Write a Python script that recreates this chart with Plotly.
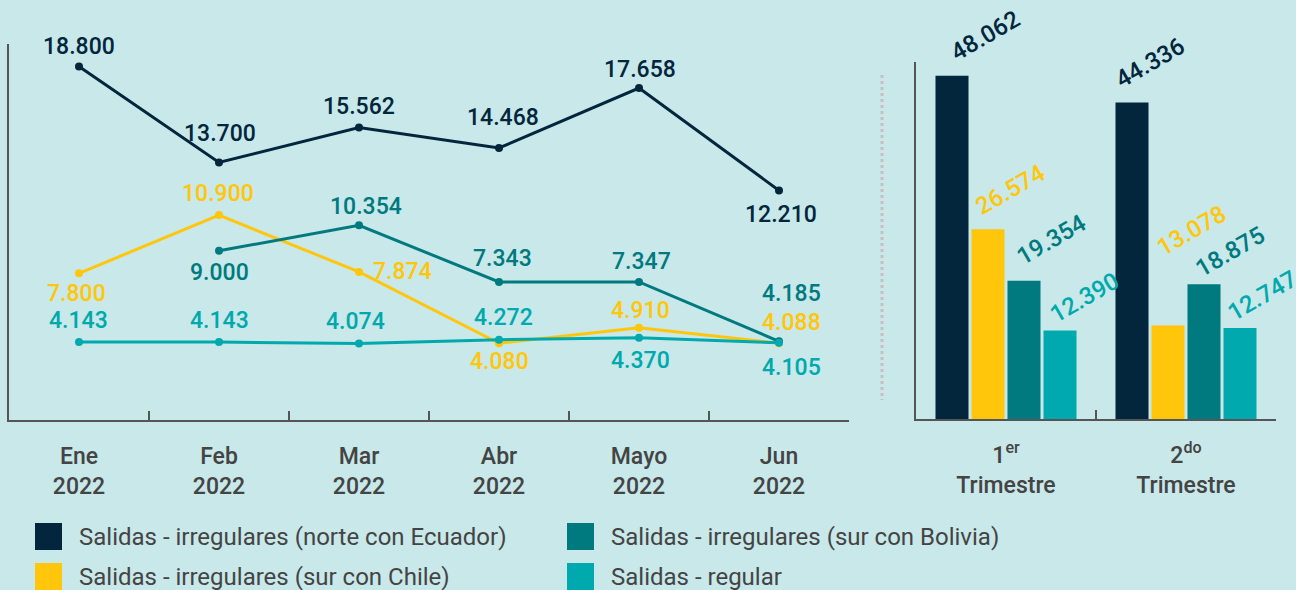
import plotly.graph_objects as go

# ---------------- data ----------------
months = ["Ene<br>2022", "Feb<br>2022", "Mar<br>2022", "Abr<br>2022", "Mayo<br>2022", "Jun<br>2022"]
ecuador = [18800, 13700, 15562, 14468, 17658, 12210]
chile = [7800, 10900, 7874, 4080, 4910, 4088]
bolivia = [None, 9000, 10354, 7343, 7347, 4185]
regular = [4143, 4143, 4074, 4272, 4370, 4105]

quarters = ["1er Trimestre", "2do Trimestre"]
quarter_ticks = ["1<sup>er</sup><br>Trimestre", "2<sup>do</sup><br>Trimestre"]
q_ecuador = [48062, 44336]
q_chile = [26574, 13078]
q_bolivia = [19354, 18875]
q_regular = [12390, 12747]

series_names = [
    "Salidas - irregulares (norte con Ecuador)",
    "Salidas - irregulares (sur con Chile)",
    "Salidas - irregulares (sur con Bolivia)",
    "Salidas - regular",
]

# ---------------- style ----------------
W, H = 1296, 590
BG = "#c8e8e9"
C_EC = "#03263d"
C_CH = "#ffc60b"
C_BO = "#007a7f"
C_RE = "#00a9ad"
AXIS = "#555555"
TXT = "#444444"
FONT = "Roboto"
FONT_MED = "Roboto Medium, Roboto"


def fmt(v):
    return f"{v:,}".replace(",", ".")


def px(x):
    return x / W


def py(y):
    return 1 - y / H


fig = go.Figure()

line_series = [
    (ecuador, C_EC, series_names[0]),
    (chile, C_CH, series_names[1]),
    (bolivia, C_BO, series_names[2]),
    (regular, C_RE, series_names[3]),
]
for vals, col, name in line_series:
    fig.add_trace(go.Scatter(
        x=months, y=vals, mode="lines+markers", name=name,
        line=dict(color=col, width=3), marker=dict(color=col, size=8),
        connectgaps=False, showlegend=False, xaxis="x", yaxis="y",
    ))

bar_series = [
    (q_ecuador, C_EC, series_names[0]),
    (q_chile, C_CH, series_names[1]),
    (q_bolivia, C_BO, series_names[2]),
    (q_regular, C_RE, series_names[3]),
]
for vals, col, name in bar_series:
    fig.add_trace(go.Bar(
        x=quarters, y=vals, name=name, marker=dict(color=col, line=dict(width=0)),
        showlegend=False, xaxis="x2", yaxis="y2",
    ))

annotations = []

# line-chart value labels: (dx, dy) pixel offsets of the label centre from the point
line_offsets = [
    [(0, 20), (1, 29), (0, 21), (4, 31), (1, 19), (2, -24)],
    [(-3, -20), (-1, 22), (43, 0), (0, -18), (1, 17), (12, 21)],
    [None, (0, -22), (7, 19), (3, 23), (2, 20), (12, 48)],
    [(-1, 22), (0, 22), (-4, 22), (4, 22), (1, -23), (12, -25)],
]
for (vals, col, _), offs in zip(line_series, line_offsets):
    for m, v, o in zip(months, vals, offs):
        if v is None:
            continue
        annotations.append(dict(
            x=m, y=v, xref="x", yref="y", text=fmt(v), showarrow=False,
            xshift=o[0], yshift=o[1], xanchor="center", yanchor="middle",
            font=dict(family=FONT_MED, size=23, color=col),
        ))

# bar value labels
bar_center = [-54, -18, 18, 54]
bar_label_offsets = [
    [(33, 40), (18, 39)],
    [(22, 39), (23, 95)],
    [(27, 41), (26, 32)],
    [(24, 33), (22, 32)],
]
for k, ((vals, col, _), offs) in enumerate(zip(bar_series, bar_label_offsets)):
    for q, v, o in zip(quarters, vals, offs):
        annotations.append(dict(
            x=q, y=v, xref="x2", yref="y2", text=fmt(v), showarrow=False,
            xshift=bar_center[k] + o[0], yshift=o[1], textangle=-30,
            xanchor="center", yanchor="middle",
            font=dict(family=FONT_MED, size=24, color=col),
        ))

# legend (manual, large square swatches)
legend_pos = [(35, 523), (567, 523), (35, 563), (567, 563)]
legend_order = [0, 2, 1, 3]
colors = [C_EC, C_CH, C_BO, C_RE]
shapes = []
for (lx, ly), idx in zip(legend_pos, legend_order):
    shapes.append(dict(type="rect", xref="paper", yref="paper",
                       x0=px(lx), x1=px(lx + 27), y0=py(ly + 27), y1=py(ly),
                       fillcolor=colors[idx], line=dict(width=0)))
    annotations.append(dict(
        x=px(lx + 42), y=py(ly + 14), xref="paper", yref="paper",
        text=series_names[idx], showarrow=False, xanchor="left", yanchor="middle",
        font=dict(family=FONT, size=24, color=TXT),
    ))

# dotted separator
shapes.append(dict(type="line", xref="paper", yref="paper",
                   x0=px(882), x1=px(882), y0=py(75), y1=py(400),
                   line=dict(color="#c9bcc4", width=3, dash="dot")))

fig.update_layout(
    width=W, height=H,
    paper_bgcolor=BG, plot_bgcolor=BG,
    margin=dict(l=0, r=0, t=0, b=0),
    font=dict(family=FONT, color=TXT),
    barmode="group", bargap=0.2, bargroupgap=0.083,
    annotations=annotations, shapes=shapes,
    xaxis=dict(
        domain=[px(9), px(849)], anchor="y", type="category",
        range=[-0.5, 5.5], showline=True, linecolor=AXIS, linewidth=2,
        ticks="inside", tickson="boundaries", ticklen=9, tickcolor=AXIS, tickwidth=1.5,
        showgrid=False, zeroline=False, ticklabelstandoff=14,
        tickfont=dict(family=FONT_MED, size=23, color=TXT),
    ),
    yaxis=dict(
        domain=[py(420), py(44)], anchor="x", range=[0, 20000],
        showline=True, linecolor=AXIS, linewidth=1.5, showticklabels=False,
        ticks="", showgrid=False, zeroline=False,
    ),
    xaxis2=dict(
        domain=[px(916), px(1276)], anchor="y2", type="category",
        range=[-0.5, 1.5], showline=True, linecolor=AXIS, linewidth=2,
        ticks="inside", tickson="boundaries", ticklen=9, tickcolor=AXIS, tickwidth=1.5,
        tickvals=quarters, ticktext=quarter_ticks, ticklabelstandoff=14,
        showgrid=False, zeroline=False,
        tickfont=dict(family=FONT_MED, size=23, color=TXT),
    ),
    yaxis2=dict(
        domain=[py(419), py(62)], anchor="x2", range=[0, 50000],
        showline=True, linecolor=AXIS, linewidth=1.5, showticklabels=False,
        ticks="", showgrid=False, zeroline=False,
    ),
)

fig.write_html(
    "out.html",
    config={"displayModeBar": False},
    post_script="document.body.style.margin='0';document.body.style.overflow='hidden';",
)
